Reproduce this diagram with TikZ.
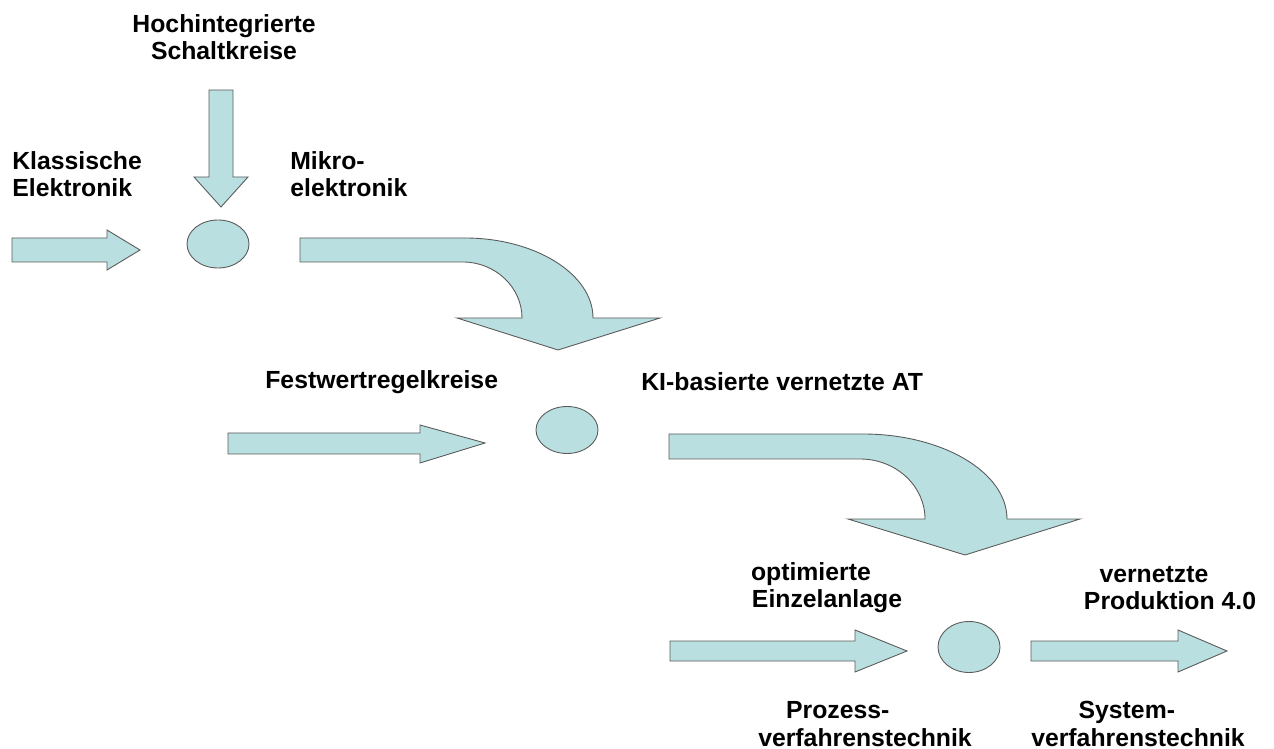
\documentclass[tikz,border=0pt]{standalone}
\usepackage{fontspec}
\setmainfont{Liberation Sans}
\usepackage{xcolor}
\usepackage{tikz}
\usetikzlibrary{shapes,positioning,calc}
\definecolor{pale}{RGB}{185,223,224}
\definecolor{rim}{RGB}{90,90,90}
\tikzset{
    blockarrow/.style={fill=pale, draw=rim, line width=0.5pt, line join=miter},
    knot/.style={ellipse, fill=pale, draw=rim, line width=0.5pt, minimum width=62*0.02cm, minimum height=48*0.02cm, inner sep=0pt},
    lbl/.style={font=\fontsize{14.1}{15.5}\selectfont\bfseries, inner sep=0pt}
}

\begin{document}
\begin{tikzpicture}[x=0.02cm, y=-0.02cm]
        \useasboundingbox (0,0) rectangle (1274,749);

        % Stage 1
        \node[lbl, align=center] (hoch) at (224,37) {Hochintegrierte\\Schaltkreise};
        \node[lbl, align=left, anchor=west] (klass) at (12,174) {Klassische\\Elektronik};
        \node[lbl, align=left, anchor=west] (mikro) at (290,174) {Mikro-\\elektronik};
        \draw[blockarrow] (12,238) -- (107,238) -- (107,230) -- (140,250) -- (107,270) -- (107,262) -- (12,262) -- cycle;
        \draw[blockarrow] (209,90) -- (233,90) -- (233,177) -- (248,177) -- (221,207) -- (194,177) -- (209,177) -- cycle;
        \node[knot] (k1) at (218,244) {};
        \draw[blockarrow] (300,238) -- (465,238) .. controls (535,238) and (593,274) .. (593,318) -- (660,318) -- (558,350) -- (457,318) -- (522,318) .. controls (522,287) and (495,262) .. (463,262) -- (300,262) -- cycle;

        % Stage 2
        \node[lbl, anchor=west] (fest) at (265,382) {Festwertregelkreise};
        \node[lbl, anchor=west] (kiat) at (641,382) {KI-basierte vernetzte AT};
        \draw[blockarrow] (228,433) -- (420,433) -- (420,425) -- (485,443) -- (420,463) -- (420,454) -- (228,454) -- cycle;
        \node[knot, minimum height=47*0.02cm] (k2) at (567,430) {};
        \draw[blockarrow] (669,434) -- (863,434) .. controls (942,434) and (1007,472) .. (1007,519) -- (1080,519) -- (965,555) -- (848,519) -- (925,519) .. controls (925,486) and (896,459) .. (860,459) -- (669,459) -- cycle;

        % Stage 3
        \node[lbl, align=center] (opt) at (827,588) {optimierte\hspace*{1.3em}\\Einzelanlage};
        \node[lbl, align=center] (vern) at (1170,588) {vernetzte\hspace*{1.3em}\\Produktion 4.0};
        \node[lbl, align=center] (proz) at (865,724) {Prozess-\hspace*{2.2em}\\verfahrenstechnik};
        \node[lbl, align=center] (syst) at (1138,724) {System-\hspace*{0.9em}\\verfahrenstechnik};
        \draw[blockarrow] (670,641) -- (855,641) -- (855,630) -- (907,651) -- (855,672) -- (855,661) -- (670,661) -- cycle;
        \node[knot, minimum height=51*0.02cm] (k3) at (969,647) {};
        \draw[blockarrow] (1031,641) -- (1178,641) -- (1178,630) -- (1227,651) -- (1178,672) -- (1178,661) -- (1031,661) -- cycle;
\end{tikzpicture}
\end{document}
